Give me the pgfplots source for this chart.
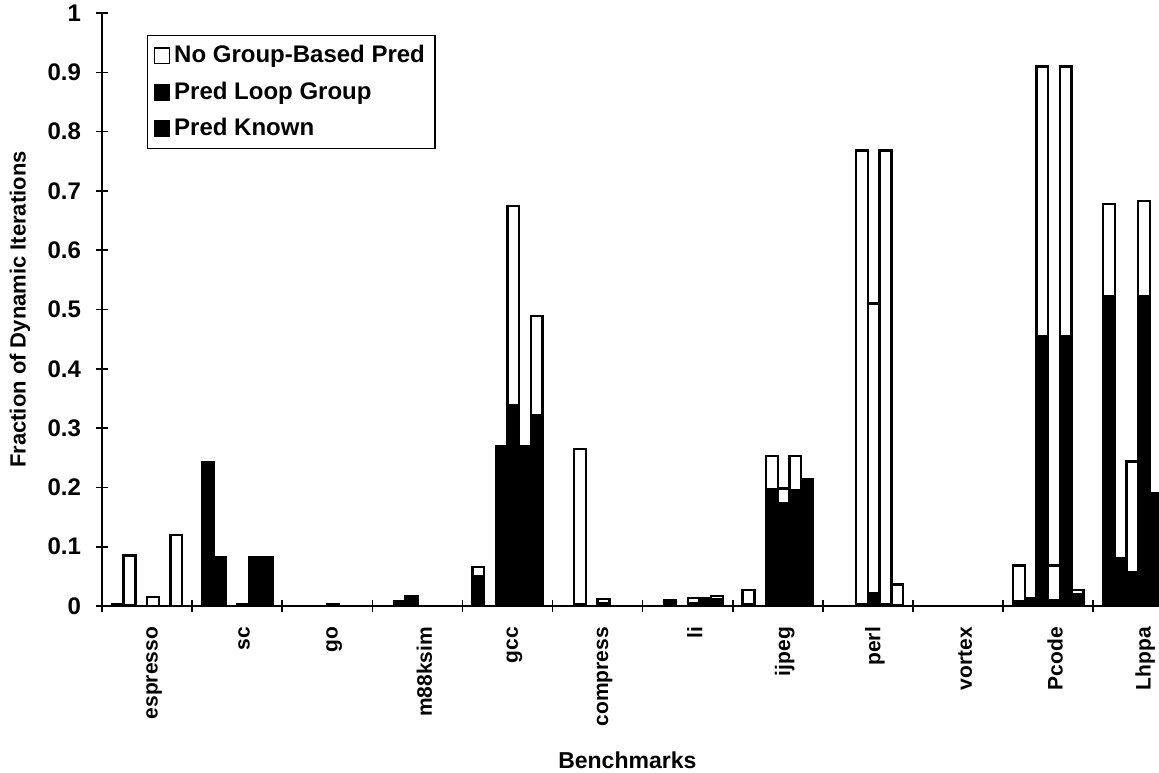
\documentclass[border=0pt]{standalone}
\usepackage{pgfplots}
\pgfplotsset{compat=1.18}
\usepackage{pgfplotstable}
\usepackage{fontspec}
\setmainfont{Liberation Sans}

% columns: k = benchmark index, known / loop / nogroup = stacked fractions
\pgfplotstableread{
k known loop nogroup
0 0 0.003 0
1 0 0.243 0
2 0 0 0
3 0 0 0
4 0 0.050 0.016
5 0 0 0
6 0 0 0
7 0 0.003 0.024
8 0 0 0
9 0 0 0
10 0 0.008 0.060
11 0 0.523 0.155
}\barA
\pgfplotstableread{
k known loop nogroup
0 0 0.002 0.083
1 0 0.083 0
2 0 0 0
3 0 0.008 0
4 0 0 0
5 0 0.003 0.262
6 0 0.009 0
7 0 0 0
8 0 0 0
9 0 0 0
10 0 0.013 0
11 0 0.080 0
}\barB
\pgfplotstableread{
k known loop nogroup
0 0 0 0
1 0 0 0
2 0 0 0
3 0 0.017 0
4 0 0.270 0
5 0 0 0
6 0 0 0
7 0 0.197 0.056
8 0 0.003 0.765
9 0 0 0
10 0 0.455 0.455
11 0 0.057 0.187
}\barC
\pgfplotstableread{
k known loop nogroup
0 0 0 0.015
1 0 0.003 0
2 0 0.003 0
3 0 0 0
4 0 0.339 0.336
5 0 0.004 0.008
6 0 0.004 0.010
7 0 0.174 0.024
8 0 0.022 0.488
9 0 0 0
10 0 0.010 0.058
11 0 0.523 0.160
}\barD
\pgfplotstableread{
k known loop nogroup
0 0 0 0
1 0 0.083 0
2 0 0 0
3 0 0 0
4 0 0.270 0
5 0 0 0
6 0 0.013 0
7 0 0.195 0.058
8 0 0.003 0.765
9 0 0 0
10 0 0.455 0.455
11 0 0.190 0
}\barE
\pgfplotstableread{
k known loop nogroup
0 0 0 0.120
1 0 0.083 0
2 0 0 0
3 0 0 0
4 0 0.322 0.167
5 0 0 0
6 0 0.011 0.006
7 0 0.214 0
8 0 0.002 0.034
9 0 0 0
10 0 0.020 0.007
11 0 0 0
}\barF

% one stacked column per benchmark at shift #2: white total, black (known+loop), black known
\newcommand\stackcol[2]{%
\addplot[fill=white, bar shift=#2, forget plot] table[x expr=\thisrow{k}+0.5, y expr=\thisrow{known}+\thisrow{loop}+\thisrow{nogroup}] {#1};
\addplot[fill=black, bar shift=#2, forget plot] table[x expr=\thisrow{k}+0.5, y expr=\thisrow{known}+\thisrow{loop}] {#1};
\addplot[fill=black, bar shift=#2, forget plot] table[x expr=\thisrow{k}+0.5, y=known] {#1};
}

\begin{document}
\begin{tikzpicture}
\path[use as bounding box] (-51pt,-83pt) rectangle (528.5pt,303pt);
\begin{axis}[
  scale only axis,
  width=528.5pt, height=296.5pt,
  xmin=0, xmax=11.73, ymin=0, ymax=1,
  ybar,
  bar width=0.13,
  axis x line*=bottom, axis y line*=left,
  axis line style={-, line width=0.8pt},
  tick align=center,
  major tick length=6pt, minor tick length=6pt,
  tick style={black, line width=0.8pt},
  ytick={0,0.1,0.2,0.3,0.4,0.5,0.6,0.7,0.8,0.9,1},
  yticklabel style={/pgf/number format/fixed, /pgf/number format/assume math mode=true, font=\fontsize{12}{14}\selectfont\bfseries, xshift=-4pt},
  xtick={0.5,1.5,2.5,3.5,4.5,5.5,6.5,7.5,8.5,9.5,10.5,11.5},
  xticklabels={espresso,sc,go,m88ksim,gcc,compress,li,ijpeg,perl,vortex,Pcode,Lhppa},
  x tick style={draw=none},
  minor xtick={0,1,2,3,4,5,6,7,8,9,10,11},
  minor x tick style={draw=black, line width=0.8pt},
  xticklabel style={rotate=90, anchor=east, font=\fontsize{10.5}{12}\selectfont\bfseries, xshift=-4pt, yshift=-3.5pt},
  xlabel={Benchmarks},
  ylabel={Fraction of Dynamic Iterations},
  xlabel style={at={(axis description cs:0.497,-0.26)}, anchor=center, font=\fontsize{11.5}{13}\selectfont\bfseries},
  ylabel style={at={(axis description cs:-0.0776,0.5)}, anchor=center, font=\fontsize{11}{13}\selectfont\bfseries},
  legend style={at={(axis description cs:0.0426,0.963)}, anchor=north west, draw=black, line width=0.6pt,
    font=\fontsize{12}{14}\selectfont\bfseries, cells={anchor=west}, row sep=4pt, inner sep=3pt},
  every axis plot/.append style={draw=black, line width=1.2pt},
]
\addlegendimage{legend image code/.code={\draw[fill=white,draw=black,line width=0.8pt] (0pt,-3.8pt) rectangle (7.5pt,3.8pt);}}
\addlegendentry{No Group-Based Pred}
\addlegendimage{legend image code/.code={\draw[fill=black,draw=black,line width=0.8pt] (0pt,-3.8pt) rectangle (7.5pt,3.8pt);}}
\addlegendentry{Pred Loop Group}
\addlegendimage{legend image code/.code={\draw[fill=black,draw=black,line width=0.8pt] (0pt,-3.8pt) rectangle (7.5pt,3.8pt);}}
\addlegendentry{Pred Known}

\stackcol{\barA}{-0.325}
\stackcol{\barB}{-0.195}
\stackcol{\barC}{-0.065}
\stackcol{\barD}{0.065}
\stackcol{\barE}{0.195}
\stackcol{\barF}{0.325}
\end{axis}
\end{tikzpicture}
\end{document}
